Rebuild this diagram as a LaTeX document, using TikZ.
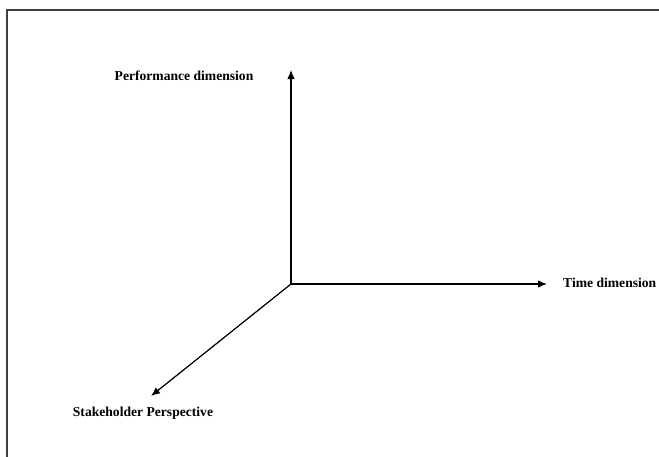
\documentclass[tikz,border=0pt]{standalone}
\usepackage{fontspec}
\setmainfont{Liberation Serif}
\usetikzlibrary{arrows.meta,positioning}
\tikzset{%
	axis/.style={draw=black, line width=1.2pt, -{Latex[length=9pt,width=7.5pt]}},
	axislabel/.style={font=\bfseries\fontsize{13.6}{15}\selectfont, inner sep=0pt},
	frame/.style={draw=black!75, line width=1.2pt}}

\begin{document}
\begin{tikzpicture}[x=1pt, y=-1pt]
		\useasboundingbox (0,0) rectangle (659,456);
		\draw[frame] (7,460) -- (7,10) -- (665,10);
		
		\coordinate (O) at (291,284);
		\coordinate (perf) at (291,70);
		\coordinate (time) at (547,284);
		\coordinate (stake) at (151,396);
		
		\node[axislabel] (perflabel) at (184,76) {Performance dimension};
		\node[axislabel, anchor=west] (timelabel) at (563,283) {Time dimension};
		\node[axislabel] (stakelabel) at (143,413) {Stakeholder Perspective};
		
		\draw[axis] (O) -- (perf);
		\draw[axis] (O) -- (time);
		\draw[axis] (O) -- (stake);
	\end{tikzpicture}
\end{document}
